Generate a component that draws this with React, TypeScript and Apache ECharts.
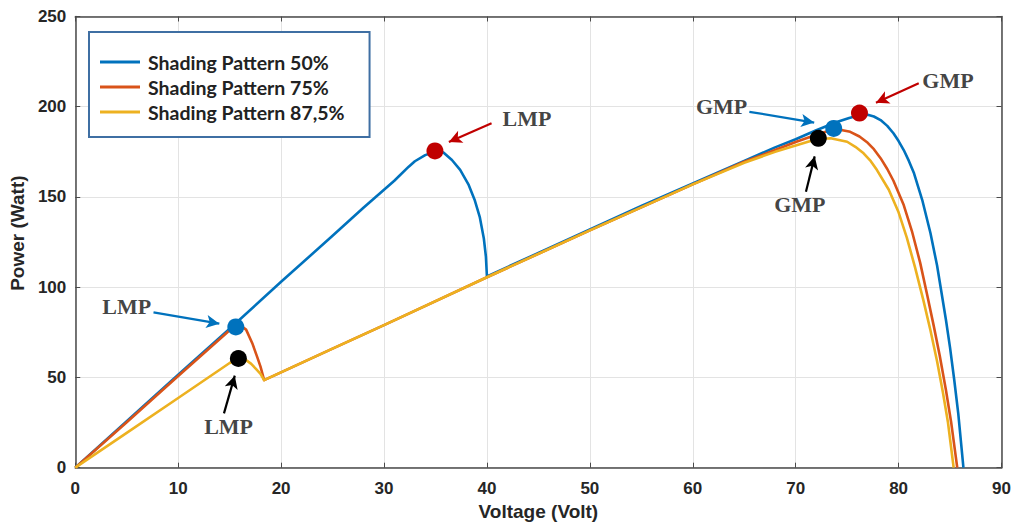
import React, { useEffect, useRef } from "react";
import * as echarts from "echarts";

// ---- Data ----
const seriesNames = ["Shading Pattern 50%", "Shading Pattern 75%", "Shading Pattern 87,5%"];
const seriesColors = ["#0072BD", "#D95319", "#EDB120"];

const v50 = [0, 5, 10, 15, 20, 25, 28, 29, 30, 31, 32.4, 33, 34, 35, 35.5, 35.8, 36.6, 37.4, 38.2, 38.8, 39.3, 39.7, 39.9, 40, 45, 50, 55, 60, 65, 68, 70, 72, 74, 75.2, 76.2, 77, 77.6, 78.25, 78.9, 79.5, 80, 80.5, 81, 81.5, 82.3, 83.1, 83.74, 84.2, 84.6, 85.0, 85.4, 85.8, 86.3];
const p50 = [0, 25.7, 51.5, 77, 103, 128.5, 144, 149, 154, 159, 166.8, 169.8, 173.2, 175.2, 175.3, 174.5, 170.5, 165, 157, 148.5, 139, 127, 117, 106, 119, 132, 145, 157.5, 170, 177.5, 182, 187, 191.5, 193.8, 195.3, 195.5, 194.6, 192.6, 189.4, 185.3, 181, 176, 170, 163.1, 148.3, 129.9, 112, 96, 82, 66.5, 49, 30, 0];

const v75 = [0, 5, 10, 15, 16, 16.6, 17.2, 17.7, 18, 18.35, 25, 30, 40, 50, 60, 65, 68, 70, 72, 73.4, 74.3, 75.3, 76.2, 77, 77.6, 78.25, 78.9, 79.5, 80.5, 81.3, 82.1, 82.77, 83.4, 84.0, 84.6, 85.1, 85.7];
const p75 = [0, 25.2, 50.8, 76.2, 79, 76.5, 69, 61, 56, 48.5, 66, 79, 105.5, 131.5, 157, 169.5, 176, 180.5, 184.5, 187, 187.3, 186.1, 183.5, 180, 176.5, 171.5, 165.5, 159, 145.5, 131, 113.5, 96, 79, 62, 43, 25.5, 0];

const v875 = [0, 5, 10, 15, 15.9, 16.5, 17.1, 17.6, 18, 18.35, 25, 30, 40, 50, 60, 65, 68, 70, 72, 73.4, 75.0, 75.8, 76.6, 77.3, 77.9, 79.05, 80.0, 80.8, 81.6, 82.4, 83.1, 83.74, 84.3, 84.8, 85.35];
const p875 = [0, 19.3, 38.6, 58, 60.5, 60, 57.5, 54.5, 52, 48.5, 66, 79, 105.5, 131.5, 157, 169, 175, 178.5, 182, 182.5, 180.6, 177.8, 174.2, 169.8, 164.9, 154, 141.5, 127.5, 111, 93, 76, 59, 42, 25, 0];

const markerV = [15.6, 15.85, 34.95, 73.7, 72.2, 76.2];
const markerP = [78, 60.5, 175.5, 188, 182.5, 196.5];
const markerColors = ["#0072BD", "#000000", "#C00000", "#0072BD", "#000000", "#C00000"];

const annotText = ["LMP", "LMP", "LMP", "GMP", "GMP", "GMP"];
const annotV = [5.0, 14.9, 43.9, 62.8, 70.4, 84.8];
const annotP = [89.4, 23.1, 193.7, 200.2, 146.1, 214.8];
const arrowFrom = [[7.6, 86.1], [14.45, 30.1], [40.45, 190.8], [65.5, 197.2], [71.0, 152.9], [81.96, 213.0]];
const arrowTo = [[14.0, 79.8], [15.5, 51.0], [36.3, 180.5], [71.8, 191.2], [71.85, 172.5], [77.8, 202.2]];
const arrowColors = ["#0072BD", "#000000", "#C00000", "#0072BD", "#000000", "#C00000"];

const xTicks = { min: 0, max: 90, interval: 10 };
const yTicks = { min: 0, max: 250, interval: 50 };

const zip = (a: number[], b: number[]) => a.map((v, i) => [v, b[i]]);

export default function App() {
  const ref = useRef<HTMLDivElement>(null);
  useEffect(() => {
    if (!ref.current) return;
    const chart = echarts.init(ref.current, undefined, { renderer: "svg" });
    const axisColor = "#4a4a4a";
    const labelStyle = {
      color: "#262626",
      fontFamily: "Liberation Sans, Arial, sans-serif",
      fontWeight: "bold" as const,
      fontSize: 17,
    };
    const lineData = [zip(v50, p50), zip(v75, p75), zip(v875, p875)];
    const option: any = {
      animation: false,
      backgroundColor: "#ffffff",
      grid: { left: 72.5, right: 12.5, top: 16.5, bottom: 62.3, containLabel: false },
      legend: {
        data: seriesNames,
        orient: "vertical",
        left: 89,
        top: 32,
        icon: "rect",
        itemWidth: 40,
        itemHeight: 3,
        itemGap: 5,
        padding: [20, 25, 15, 11],
        backgroundColor: "#ffffff",
        borderColor: "#3f6fa3",
        borderWidth: 2,
        textStyle: {
          fontFamily: "Lato, sans-serif",
          fontWeight: "bold",
          fontSize: 19.5,
          color: "#222",
          padding: [0, 0, 0, 3],
        },
      },
      xAxis: [
        {
          type: "value",
          ...xTicks,
          name: "Voltage (Volt)",
          nameLocation: "middle",
          nameGap: 34,
          nameTextStyle: { ...labelStyle, fontSize: 19 },
          axisLine: { show: true, lineStyle: { color: axisColor, width: 1.5 } },
          axisTick: { show: true, inside: true, length: 5, lineStyle: { color: axisColor } },
          axisLabel: { ...labelStyle, margin: 12 },
          splitLine: { show: true, lineStyle: { color: "#e3e3e3", width: 1 } },
        },
        {
          type: "value",
          ...xTicks,
          position: "top",
          axisLine: { show: true, onZero: false, lineStyle: { color: axisColor, width: 1.5 } },
          axisTick: { show: true, inside: true, length: 5, lineStyle: { color: axisColor } },
          axisLabel: { show: false },
          splitLine: { show: false },
        },
      ],
      yAxis: [
        {
          type: "value",
          ...yTicks,
          name: "Power (Watt)",
          nameLocation: "middle",
          nameGap: 40,
          nameTextStyle: { ...labelStyle, fontSize: 19, padding: [0, 0, 0, 18] },
          axisLine: { show: true, lineStyle: { color: axisColor, width: 1.5 } },
          axisTick: { show: true, inside: true, length: 5, lineStyle: { color: axisColor } },
          axisLabel: { ...labelStyle, margin: 9 },
          splitLine: { show: true, lineStyle: { color: "#e3e3e3", width: 1 } },
        },
        {
          type: "value",
          ...yTicks,
          position: "right",
          axisLine: { show: true, onZero: false, lineStyle: { color: axisColor, width: 1.5 } },
          axisTick: { show: true, inside: true, length: 5, lineStyle: { color: axisColor } },
          axisLabel: { show: false },
          splitLine: { show: false },
        },
      ],
      series: [
        ...seriesNames.map((name, i) => ({
          name,
          type: "line",
          data: lineData[i],
          showSymbol: false,
          symbol: "none",
          color: seriesColors[i],
          lineStyle: { width: 2.6, color: seriesColors[i], join: "round" },
          silent: true,
          z: 2,
        })),
        {
          name: "markers",
          type: "scatter",
          symbol: "circle",
          symbolSize: 17,
          z: 4,
          silent: true,
          data: markerV.map((v, i) => ({
            value: [v, markerP[i]],
            itemStyle: { color: markerColors[i], opacity: 1 },
          })),
        },
        {
          name: "annotations",
          type: "scatter",
          symbolSize: 0.1,
          z: 5,
          silent: true,
          itemStyle: { color: "transparent" },
          label: {
            show: true,
            position: "inside",
            formatter: "{b}",
            fontFamily: "Liberation Serif, Times New Roman, serif",
            fontWeight: "bold",
            fontSize: 22,
            color: "#111111",
          },
          data: annotText.map((t, i) => ({ name: t, value: [annotV[i], annotP[i]] })),
          markLine: {
            silent: true,
            symbol: ["none", "arrow"],
            symbolSize: [10, 13],
            label: { show: false },
            animation: false,
            data: arrowFrom.map((f, i) => [
              { coord: f, lineStyle: { color: arrowColors[i], width: 2.2, type: "solid" }, itemStyle: { color: arrowColors[i] } },
              { coord: arrowTo[i] },
            ]),
          },
        },
      ],
    };
    chart.setOption(option);
    return () => chart.dispose();
  }, []);
  return (
    <div
      ref={ref}
      style={{ position: "fixed", left: 0, top: 0, width: 1014, height: 530, background: "#fff" }}
    />
  );
}
